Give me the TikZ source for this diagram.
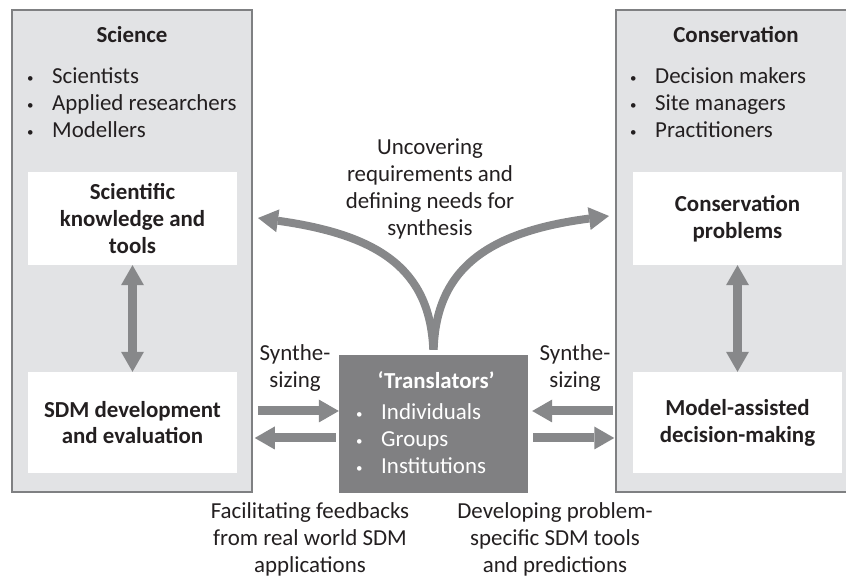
\documentclass[tikz,border=0pt]{standalone}
\usepackage{fontspec}
\setmainfont{Carlito}
\usetikzlibrary{arrows.meta}
\definecolor{panelgray}{HTML}{E2E3E5}
\definecolor{edgegray}{HTML}{7F8082}
\definecolor{arrowgray}{HTML}{87888A}
\definecolor{trgray}{HTML}{808082}
\definecolor{ink}{HTML}{231F20}
\newcommand{\bodyfont}{\fontsize{23}{27}\selectfont}
\tikzset{
  >={Triangle[width=23bp,length=20bp,line width=0pt]},
  panel/.style={draw=edgegray, line width=1.5bp, fill=panelgray,
    minimum width=240bp, minimum height=482bp, inner sep=0pt},
  whitebox/.style={fill=white, minimum width=209bp, inner sep=0pt,
    align=center, font=\bodyfont\bfseries, text=ink},
  plain/.style={align=center, text=ink, inner sep=0pt, font=\bodyfont},
  boldtext/.style={plain, font=\bodyfont\bfseries},
  bigarrow/.style={draw=arrowgray, line width=9bp, ->},
  curvearrow/.style={draw=arrowgray, line width=8bp, ->},
}
\newcommand{\bul}{\makebox[25bp][l]{\raisebox{1.5bp}{\fontsize{13}{13}\selectfont\textbullet}}}
\begin{document}
\begin{tikzpicture}[x=1bp, y=1bp]
  \useasboundingbox (0,0) rectangle (846,579);

  % the two side panels
  \node[panel] (sci) at (132,328) {};
  \node[panel] (con) at (736,328) {};

  \node[boldtext] (scihead) at (132,544) {Science};
  \node[plain, align=left, anchor=west] (scilist) at (27,476)
    {\bul Scientists\\ \bul Applied researchers\\ \bul Modellers};
  \node[boldtext] (conhead) at (736,544) {Conservation};
  \node[plain, align=left, anchor=west] (conlist) at (630,476)
    {\bul Decision makers\\ \bul Site managers\\ \bul Practitioners};

  \node[whitebox, minimum height=93bp] (know) at (132.5,360.5)
    {Scientific\\ knowledge and\\ tools};
  \node[whitebox, minimum height=101bp] (sdm) at (132.5,156.5)
    {SDM development\\ and evaluation};
  \node[whitebox, minimum height=93bp] (prob) at (737.5,360.5)
    {Conservation\\ problems};
  \node[whitebox, minimum height=101bp] (mad) at (737.5,156.5)
    {Model-assisted\\ decision-making};

  % translators in the middle
  \node[fill=trgray, minimum width=189bp, minimum height=138bp, inner sep=0pt] (tr) at (433.5,155) {};
  \node[boldtext, text=white] (trhead) at (436,199) {`Translators'};
  \node[plain, text=white, align=left, anchor=west] (trlist) at (356,140)
    {\bul Individuals\\ \bul Groups\\ \bul Institutions};

  \draw[bigarrow, <->] (know.south) -- (sdm.north);
  \draw[bigarrow, <->] (prob.south) -- (mad.north);

  \coordinate (rowa) at (433,168);
  \coordinate (rowb) at (433,141);
  \draw[bigarrow, shorten <=5bp] (sci.east |- rowa) -- (tr.west |- rowa);
  \draw[bigarrow, shorten <=3bp, shorten >=2bp] (tr.west |- rowb) -- (sci.east |- rowb);
  \draw[bigarrow, shorten <=2bp, shorten >=4bp] (con.west |- rowa) -- (tr.east |- rowa);
  \draw[bigarrow, shorten <=5bp, shorten >=1bp] (tr.east |- rowb) -- (con.west |- rowb);

  % the fork above the translators
  \coordinate (forkl) at (258,361);
  \coordinate (forkr) at (609,363);
  \draw[curvearrow, shorten <=5bp] (tr.north) .. controls (430,309) and (380,344) .. (forkl);
  \draw[curvearrow, shorten <=5bp] (tr.north) .. controls (436,309) and (486,347) .. (forkr);

  \node[plain] (need) at (430,390)
    {Uncovering\\ requirements and\\ defining needs for\\ synthesis};
  \node[plain] (synl) at (295,211) {Synthe-\\ sizing};
  \node[plain] (synr) at (575,211) {Synthe-\\ sizing};
  \node[plain] (feed) at (310,40)
    {Facilitating feedbacks\\ from real world SDM\\ applications};
  \node[plain] (dev) at (555,40)
    {Developing problem-\\ specific SDM tools\\ and predictions};
\end{tikzpicture}
\end{document}
